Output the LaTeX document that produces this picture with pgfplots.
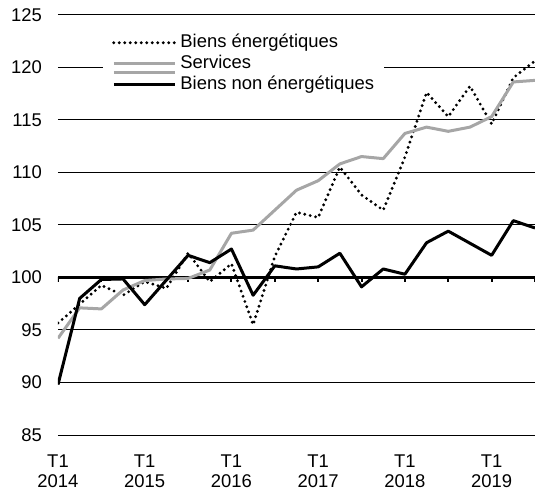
\documentclass[border=0pt]{standalone}
\usepackage{pgfplots}
\pgfplotsset{compat=1.18}
\usepackage{fontspec}
\setmainfont{Liberation Sans}
\definecolor{svc}{HTML}{A6A6A6}
\pgfplotsset{svclegend/.style={legend image code/.code={\path (0bp,0bp) -- (61bp,0bp); \draw[##1,overlay] (0bp,-9bp) -- (61bp,-9bp);}}}

\begin{document}
\begin{tikzpicture}
\begin{axis}[
  scale only axis,
  width=477bp, height=420.3bp,
  xmin=0, xmax=22, ymin=85, ymax=125,
  axis line style={draw=none},
  ytick={85,90,...,125},
  ymajorgrids,
  grid style={black, line width=1bp},
  major tick length=0pt,
  xtick={0,4,8,12,16,20},
  xticklabels={T1\\2014, T1\\2015, T1\\2016, T1\\2017, T1\\2018, T1\\2019},
  xticklabel style={align=center, inner sep=0pt, yshift=-20bp},
  yticklabel style={inner sep=0pt, xshift=-16bp},
  tick label style={font=\fontsize{18.5}{20}\selectfont},
  /pgf/number format/assume math mode=true,
  legend cell align=left,
  legend style={at={(0.0943,0.966)}, anchor=north west, draw=none, fill=white,
    inner xsep=9bp, inner ysep=3bp, row sep=0bp,
    font=\fontsize{18.5}{20}\selectfont,
    nodes={inner sep=1bp, text height=14bp, text depth=5bp},
    /tikz/every odd column/.append style={column sep=3bp}},
  legend image code/.code={\draw[#1] (0bp,0bp) -- (61bp,0bp);},
]
\draw[line width=2.7bp] (axis cs:0,100) -- (axis cs:22,100);
\draw[line width=2bp] (axis cs:0,100) -- ([yshift=-5bp]axis cs:0,100);
\draw[line width=2bp] (axis cs:2,100) -- ([yshift=-5bp]axis cs:2,100);
\draw[line width=2bp] (axis cs:4,100) -- ([yshift=-5bp]axis cs:4,100);
\draw[line width=2bp] (axis cs:6,100) -- ([yshift=-5bp]axis cs:6,100);
\draw[line width=2bp] (axis cs:8,100) -- ([yshift=-5bp]axis cs:8,100);
\draw[line width=2bp] (axis cs:10,100) -- ([yshift=-5bp]axis cs:10,100);
\draw[line width=2bp] (axis cs:12,100) -- ([yshift=-5bp]axis cs:12,100);
\draw[line width=2bp] (axis cs:14,100) -- ([yshift=-5bp]axis cs:14,100);
\draw[line width=2bp] (axis cs:16,100) -- ([yshift=-5bp]axis cs:16,100);
\draw[line width=2bp] (axis cs:18,100) -- ([yshift=-5bp]axis cs:18,100);
\draw[line width=2bp] (axis cs:20,100) -- ([yshift=-5bp]axis cs:20,100);
\draw[line width=2bp] (axis cs:22,100) -- ([yshift=-5bp]axis cs:22,100);

\addplot[black, line width=3.2bp, dash pattern=on 0bp off 5.5bp, line cap=round] coordinates {
(0,95.65) (1,97.45) (2,99.25) (3,98.3) (4,99.6) (5,98.95) (6,102.3) (7,99.6)
(8,101.3) (9,95.5) (10,102.0) (11,106.2) (12,105.7) (13,110.5) (14,107.85)
(15,106.4) (16,111.45) (17,117.6) (18,115.3) (19,118.2) (20,114.6) (21,119.0) (22,120.6)};
\addlegendentry{Biens énergétiques}

\addplot[svc, line width=3bp, line join=round, svclegend] coordinates {
(0,94.2) (1,97.1) (2,97.0) (3,98.8) (4,99.7) (5,99.85) (6,99.9) (7,100.7)
(8,104.2) (9,104.5) (10,106.4) (11,108.3) (12,109.2) (13,110.8) (14,111.5)
(15,111.3) (16,113.7) (17,114.3) (18,113.9) (19,114.3) (20,115.3) (21,118.6) (22,118.75)};
\addlegendentry{Services}

\addplot[black, line width=3bp, line join=round] coordinates {
(0,89.8) (1,98.0) (2,99.8) (3,99.85) (4,97.4) (5,99.75) (6,102.1) (7,101.4)
(8,102.7) (9,98.3) (10,101.1) (11,100.8) (12,101.0) (13,102.3) (14,99.1)
(15,100.8) (16,100.3) (17,103.3) (18,104.4) (19,103.25) (20,102.1) (21,105.4) (22,104.7)};
\addlegendentry{Biens non énergétiques}

\coordinate (SW) at (rel axis cs:0,0);
\coordinate (NE) at (rel axis cs:1,1);
\end{axis}
\pgfresetboundingbox
\path ([shift={(-58bp,-56bp)}]SW) rectangle ([shift={(0bp,14.7bp)}]NE);
\end{tikzpicture}
\end{document}
